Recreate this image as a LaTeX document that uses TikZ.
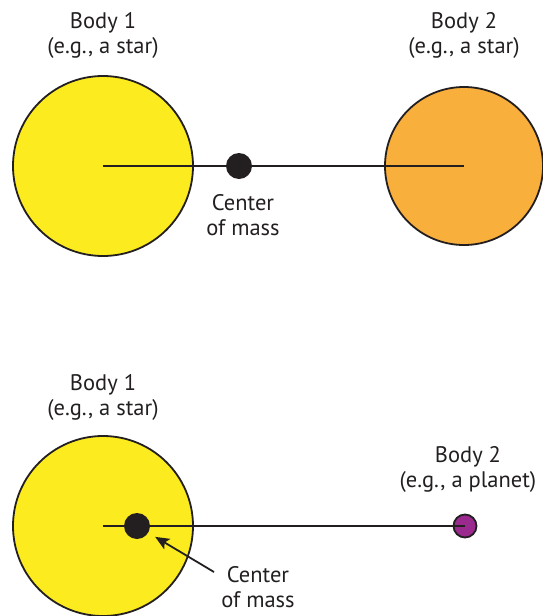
\documentclass[tikz,border=0pt]{standalone}
\usepackage{fontspec}
\setmainfont{PT Sans}
\usetikzlibrary{arrows.meta}
\definecolor{ink}{HTML}{231F20}
\definecolor{staryellow}{HTML}{FCEC1F}
\definecolor{starorange}{HTML}{F9AF3C}
\definecolor{planetpurple}{HTML}{9A2A8E}

\begin{document}
\begin{tikzpicture}[x=1pt,y=-1pt,>={Stealth[length=14pt,width=12pt,inset=3pt]},
  body/.style={circle,draw=ink,line width=1.8pt,inner sep=0pt},
  com/.style={circle,fill=ink,inner sep=0pt,minimum size=26pt},
  lbl/.style={align=center,text=ink,font=\fontsize{22.5}{25}\selectfont}]
  \useasboundingbox (0,0) rectangle (543,616);

  % two stars
  \node[body,fill=staryellow,minimum size=180pt] (b1) at (103,166) {};
  \node[body,fill=starorange,minimum size=158pt] (b2) at (464,166) {};
  \draw[ink,line width=1.8pt] (b1.center) -- (b2.center);
  \node[com] (c1) at (239,166) {};
  \node[lbl] (l1) at (103,35) {Body 1\\(e.g., a star)};
  \node[lbl] (l2) at (464,35) {Body 2\\(e.g., a star)};
  \node[lbl] (lc1) at (243,215) {Center\\of mass};

  % star and planet
  \node[body,fill=staryellow,minimum size=180pt] (b3) at (103,526) {};
  \node[body,fill=planetpurple,minimum size=23pt] (b4) at (465,526) {};
  \draw[ink,line width=1.8pt] (b3.center) -- (b4.center);
  \node[com] (c2) at (137,526) {};
  \node[lbl] (l3) at (103,397) {Body 1\\(e.g., a star)};
  \node[lbl] (l4) at (468,469) {Body 2\\(e.g., a planet)};
  \node[lbl] (lc2) at (258,587) {Center\\of mass};
  \coordinate (tail) at (214,572);
  \draw[->,ink,line width=1.8pt,shorten >=8pt] (tail) -- (c2);
\end{tikzpicture}
\end{document}
